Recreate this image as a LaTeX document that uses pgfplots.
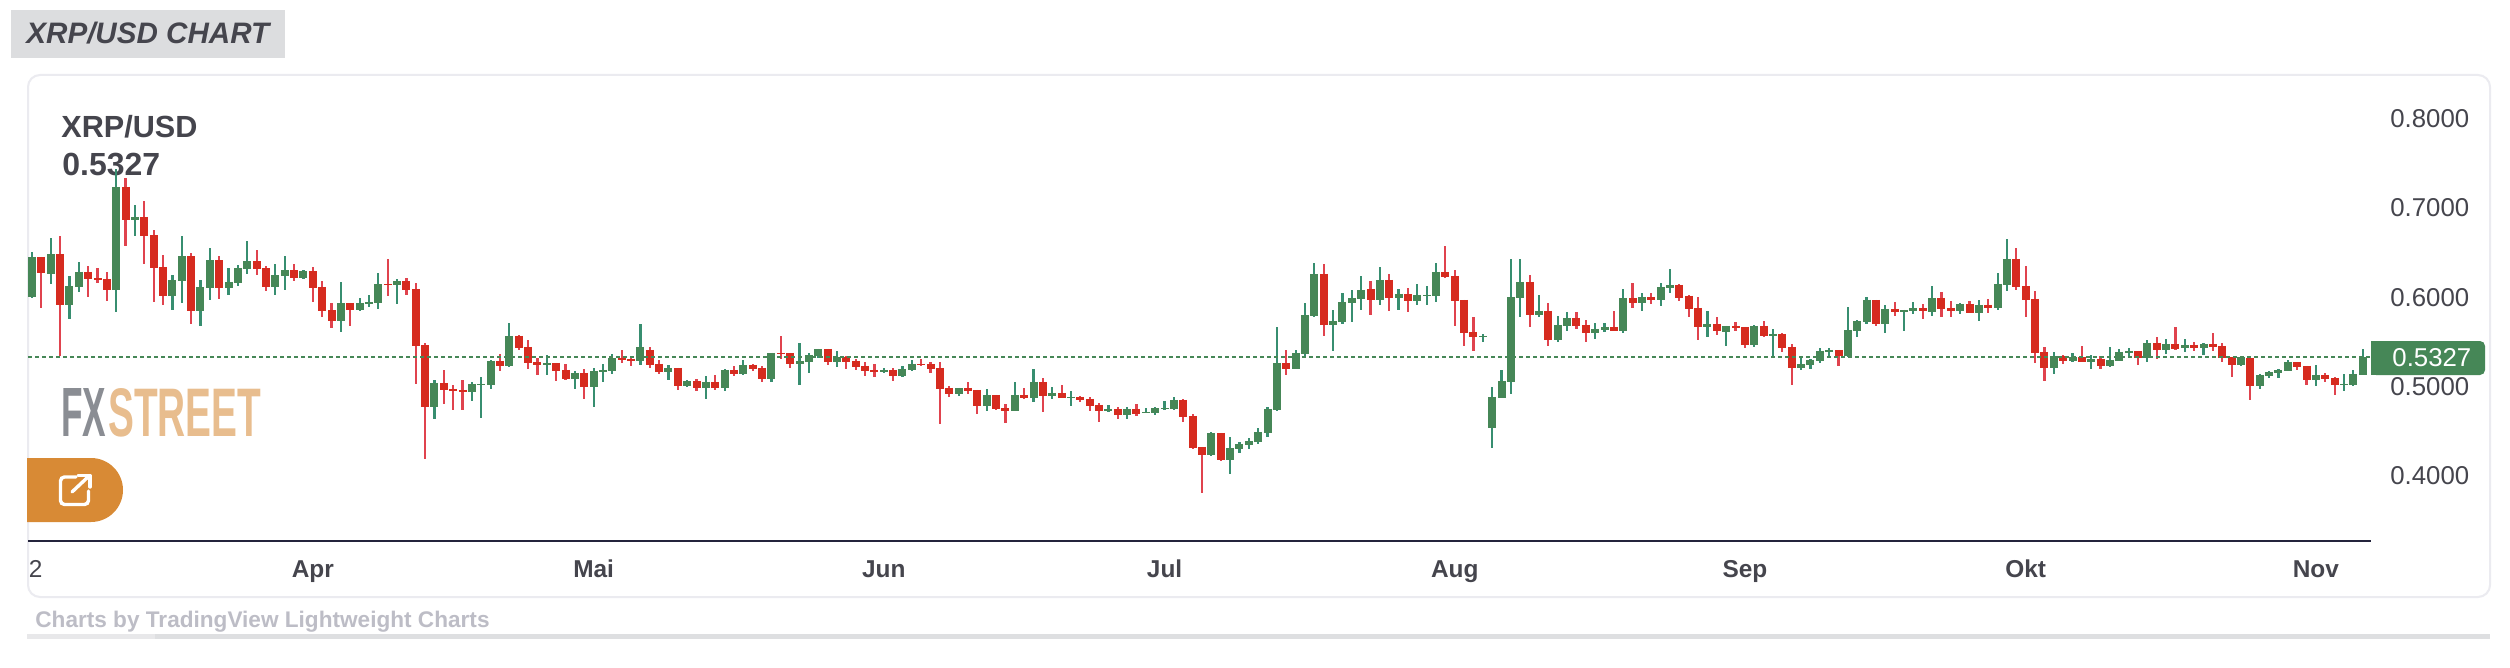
\documentclass[border=0pt]{standalone}
\usepackage{pgfplots}
\usepackage{pgfplotstable}
\usepackage{graphicx}
\usepackage{fontspec}
\pgfplotsset{compat=1.18}
\setmainfont{Liberation Sans}
\definecolor{upb}{HTML}{468757}
\definecolor{upw}{HTML}{378E70}
\definecolor{dnb}{HTML}{D62B1F}
\definecolor{dnw}{HTML}{E0434E}
\definecolor{txt}{HTML}{45454D}
\pgfplotstableread{
i H T B L
0 .6507 .6451 .5999 .5992
2 .6663 .6484 .6260 .6148
4 .6238 .6126 .5913 .5756
5 .6395 .6283 .6115 .6059
9 .7436 .7235 .6081 .5835
11 .7033 .6899 .6865 .6686
15 .6249 .6193 .6014 .5857
16 .6686 .6462 .6182 .5936
18 .6193 .6115 .5846 .5678
19 .6551 .6417 .6103 .5969
21 .6327 .6171 .6103 .6025
22 .6361 .6327 .6160 .6126
23 .6630 .6406 .6316 .6260
26 .6372 .6249 .6115 .6025
27 .6462 .6305 .6238 .6081
29 .6305 .6294 .6215 .6204
33 .6171 .5936 .5734 .5611
35 .5992 .5936 .5857 .5846
36 .6025 .5947 .5924 .5891
37 .6272 .6148 .5936 .5868
39 .6204 .6182 .6137 .5924
43 .5073 .5040 .4771 .4636
47 .5052 .5029 .4940 .4839
48 .5108 .5029 .5018 .4649
49 .5298 .5287 .5018 .4973
51 .5713 .5567 .5231 .5220
55 .5354 .5265 .5242 .5130
58 .5175 .5153 .5085 .4973
60 .5209 .5175 .4996 .4772
61 .5253 .5186 .5164 .5052
62 .5365 .5321 .5175 .5141
65 .5701 .5444 .5287 .5242
68 .5242 .5209 .5164 .5074
70 .5074 .5063 .5007 .4996
72 .5119 .5052 .4985 .4861
74 .5197 .5186 .4985 .4951
76 .5298 .5242 .5141 .5130
79 .5377 .5377 .5085 .5052
82 .5489 .5287 .5253 .5018
83 .5377 .5354 .5276 .5153
84 .5421 .5421 .5343 .5321
86 .5399 .5332 .5276 .5220
91 .5208 .5186 .5164 .5152
93 .5231 .5197 .5119 .5108
94 .5298 .5253 .5186 .5175
99 .4984 .4984 .4917 .4895
102 .4973 .4906 .4783 .4727
105 .5052 .4906 .4727 .4727
107 .5197 .5052 .4872 .4828
109 .4996 .4928 .4895 .4861
111 .4951 .4884 .4872 .4783
115 .4794 .4749 .4727 .4716
117 .4772 .4749 .4682 .4637
119 .4760 .4716 .4705 .4705
120 .4772 .4760 .4705 .4682
121 .4839 .4760 .4749 .4738
122 .4884 .4850 .4749 .4738
126 .4492 .4481 .4234 .4223
128 .4436 .4313 .4178 .4021
129 .4380 .4357 .4301 .4257
130 .4425 .4391 .4346 .4301
131 .4536 .4492 .4380 .4357
132 .4772 .4749 .4481 .4436
133 .5668 .5265 .4738 .4727
135 .5410 .5377 .5197 .5197
136 .5936 .5802 .5365 .5321
137 .6384 .6261 .5791 .5780
139 .5858 .5735 .5690 .5399
140 .6048 .5948 .5724 .5701
141 .6082 .5992 .5936 .5724
142 .6239 .6082 .5981 .5858
144 .6340 .6194 .5970 .5914
146 .6093 .6037 .5992 .5858
148 .6149 .6026 .5959 .5914
149 .6127 .6026 .6015 .5914
150 .6384 .6284 .6015 .5948
155 .5589 .5567 .5556 .5500
156 .4996 .4884 .4537 .4313
157 .5186 .5063 .4873 .4873
158 .6429 .6004 .5052 .4917
159 .6429 .6172 .5992 .5780
161 .6026 .5847 .5802 .5780
163 .5791 .5690 .5522 .5500
164 .5836 .5768 .5679 .5623
167 .5712 .5645 .5601 .5533
168 .5712 .5668 .5634 .5612
170 .6093 .5992 .5623 .5601
172 .6048 .6004 .5936 .5847
174 .6160 .6116 .5970 .5903
175 .6317 .6138 .6104 .6048
179 .5847 .5701 .5668 .5556
181 .5679 .5679 .5612 .5455
184 .5690 .5679 .5466 .5444
186 .5645 .5589 .5567 .5332
189 .5332 .5253 .5209 .5186
190 .5309 .5298 .5242 .5197
191 .5432 .5399 .5287 .5265
192 .5432 .5410 .5388 .5332
194 .5892 .5634 .5343 .5332
195 .5746 .5735 .5623 .5556
196 .6004 .5970 .5724 .5701
198 .5914 .5869 .5701 .5601
200 .5858 .5858 .5836 .5623
201 .5948 .5880 .5847 .5813
203 .6127 .5992 .5836 .5791
206 .5936 .5925 .5847 .5813
208 .5970 .5914 .5824 .5735
210 .6272 .6149 .5880 .5858
211 .6653 .6429 .6138 .6071
216 .5388 .5343 .5209 .5141
218 .5377 .5332 .5287 .5276
220 .5354 .5309 .5276 .5197
222 .5444 .5298 .5231 .5220
223 .5421 .5388 .5287 .5287
224 .5432 .5399 .5377 .5343
226 .5522 .5489 .5321 .5276
228 .5533 .5477 .5410 .5365
230 .5533 .5466 .5432 .5388
232 .5489 .5477 .5432 .5354
236 .5332 .5332 .5242 .5231
238 .5141 .5130 .5007 .4973
239 .5175 .5164 .5119 .5097
240 .5197 .5186 .5153 .5097
241 .5298 .5276 .5175 .5175
244 .5242 .5130 .5074 .5007
247 .5141 .5029 .5018 .4951
248 .5186 .5141 .5018 .5007
249 .5421 .5327 .5130 .5130
}\upcandles
\pgfplotstableread{
i H T B L
1 .6451 .6451 .6272 .5880
3 .6686 .6484 .5913 .5342
6 .6350 .6283 .6204 .6003
7 .6327 .6215 .6193 .6160
8 .6283 .6204 .6081 .5958
10 .7335 .7235 .6865 .6574
12 .7078 .6899 .6686 .6372
13 .6753 .6697 .6327 .5947
14 .6473 .6339 .6014 .5913
17 .6495 .6462 .5846 .5700
20 .6462 .6417 .6103 .5980
24 .6529 .6406 .6316 .6249
25 .6350 .6327 .6115 .6070
28 .6372 .6305 .6215 .6182
30 .6339 .6294 .6103 .5947
31 .6182 .6115 .5846 .5779
32 .5936 .5857 .5734 .5656
34 .5936 .5936 .5857 .5678
38 .6428 .6148 .6137 .6014
40 .6215 .6182 .6081 .6025
41 .6160 .6092 .5454 .5028
42 .5488 .5465 .4771 .4188
44 .5186 .5041 .4962 .4805
45 .5018 .4973 .4951 .4738
46 .5074 .4962 .4940 .4738
50 .5365 .5287 .5231 .5175
52 .5578 .5567 .5433 .5410
53 .5522 .5444 .5265 .5197
54 .5321 .5276 .5242 .5130
56 .5265 .5265 .5175 .5063
57 .5253 .5186 .5085 .5074
59 .5197 .5153 .4996 .4861
63 .5410 .5321 .5298 .5265
64 .5321 .5309 .5287 .5231
66 .5444 .5410 .5242 .5209
67 .5298 .5253 .5164 .5141
69 .5209 .5209 .5007 .4962
71 .5085 .5063 .4985 .4951
73 .5130 .5052 .4985 .4962
75 .5231 .5186 .5141 .5119
77 .5253 .5242 .5197 .5175
78 .5231 .5209 .5085 .5052
80 .5567 .5377 .5365 .5309
81 .5377 .5377 .5253 .5209
85 .5421 .5421 .5276 .5242
87 .5343 .5332 .5276 .5197
88 .5309 .5287 .5220 .5186
89 .5276 .5231 .5175 .5119
90 .5253 .5186 .5164 .5108
92 .5208 .5186 .5119 .5063
95 .5309 .5253 .5242 .5231
96 .5276 .5253 .5197 .5152
97 .5276 .5208 .4973 .4581
98 .5007 .4984 .4917 .4884
100 .5052 .4984 .4951 .4917
101 .4962 .4962 .4783 .4693
103 .4906 .4906 .4749 .4738
104 .4805 .4760 .4727 .4593
106 .4984 .4906 .4872 .4861
108 .5096 .5052 .4895 .4716
110 .5018 .4928 .4872 .4872
112 .4895 .4884 .4850 .4828
113 .4884 .4861 .4783 .4727
114 .4816 .4794 .4727 .4604
116 .4772 .4749 .4682 .4637
118 .4805 .4749 .4693 .4671
123 .4861 .4850 .4660 .4604
124 .4693 .4671 .4313 .4301
125 .4324 .4324 .4234 .3809
127 .4481 .4481 .4178 .4167
134 .5410 .5265 .5197 .5130
138 .6373 .6261 .5690 .5567
143 .6183 .6093 .5970 .5802
145 .6261 .6194 .5992 .5847
147 .6104 .6037 .5959 .5836
151 .6575 .6284 .6228 .6216
152 .6306 .6239 .5959 .5679
153 .5970 .5970 .5601 .5455
154 .5780 .5612 .5556 .5399
160 .6250 .6172 .5802 .5668
162 .5936 .5847 .5522 .5455
165 .5836 .5768 .5679 .5645
166 .5746 .5690 .5601 .5500
169 .5847 .5668 .5623 .5623
171 .6160 .5992 .5936 .5880
173 .6048 .6004 .5970 .5925
176 .6149 .6138 .5992 .5959
177 .6026 .6015 .5869 .5780
178 .6004 .5880 .5668 .5522
180 .5780 .5701 .5623 .5578
182 .5724 .5679 .5656 .5623
183 .5668 .5668 .5466 .5432
185 .5735 .5679 .5567 .5556
187 .5601 .5589 .5432 .5388
188 .5477 .5444 .5209 .5018
193 .5410 .5410 .5343 .5231
197 .5970 .5970 .5701 .5679
199 .5948 .5869 .5836 .5791
202 .5925 .5880 .5847 .5757
204 .6060 .5992 .5869 .5780
205 .5959 .5880 .5847 .5780
207 .5959 .5925 .5824 .5824
209 .5981 .5914 .5880 .5824
212 .6552 .6429 .6116 .6082
213 .6351 .6127 .5970 .5780
214 .6071 .5981 .5377 .5265
215 .5444 .5388 .5209 .5063
217 .5354 .5343 .5287 .5253
219 .5455 .5332 .5276 .5276
221 .5343 .5309 .5231 .5197
225 .5399 .5399 .5321 .5242
227 .5556 .5489 .5410 .5309
229 .5668 .5477 .5421 .5410
231 .5500 .5466 .5432 .5399
233 .5601 .5477 .5444 .5399
234 .5489 .5455 .5321 .5276
235 .5332 .5332 .5242 .5108
237 .5321 .5321 .5007 .4850
242 .5276 .5276 .5220 .5186
243 .5231 .5231 .5074 .5018
245 .5153 .5130 .5085 .5052
246 .5108 .5097 .5018 .4906
}\downcandles
\begin{document}
\begin{tikzpicture}[x=0.5pt,y=-0.5pt]
\path[use as bounding box,fill=white] (0,0) rectangle (2510,668);
% header
\fill[color={rgb,255:red,220;green,221;blue,223}] (11,10) rectangle (285,58);
\node[anchor=base west,inner sep=0pt,text=txt,font=\fontsize{14.8}{16}\selectfont\bfseries\itshape] at (26,44) {XRP/USD CHART};
% card
\draw[color={rgb,255:red,235;green,235;blue,240},line width=1pt,rounded corners=6pt] (28,75) rectangle (2490,597);
% footer
\fill[color={rgb,255:red,222;green,223;blue,225}] (27,634) rectangle (2490,639);
\fill[color={rgb,255:red,232;green,232;blue,234}] (27,634) rectangle (155,639);
\node[anchor=base west,inner sep=0pt,text={rgb,255:red,189;green,189;blue,198},font=\fontsize{11.3}{14}\selectfont\bfseries] at (35,627) {Charts by TradingView Lightweight Charts};
% pair title
\node[anchor=base west,inner sep=0pt,text=txt,font=\fontsize{15.3}{17}\selectfont\bfseries] at (61,138) {XRP/USD};
\node[anchor=base west,inner sep=0pt,text=txt,font=\fontsize{16}{18}\selectfont\bfseries] at (62,176) {0.5327};
% logo
\node[anchor=north west,inner sep=0pt,text={rgb,255:red,138;green,141;blue,147}] at (61,388) {\resizebox{22.5pt}{24pt}{\bfseries FX}};
\node[anchor=north west,inner sep=0pt,text={rgb,255:red,232;green,189;blue,142}] at (108,388) {\resizebox{76.5pt}{24pt}{\bfseries STREET}};
% button
\fill[color={rgb,255:red,216;green,138;blue,53}] (27,458) -- (91,458) arc[start angle=90,end angle=-90,radius=16pt] -- (27,522) -- cycle;
\draw[white,line width=1.7pt,rounded corners=2pt,line cap=round] (76,477) -- (60.5,477) -- (60.5,504.5) -- (88.5,504.5) -- (88.5,491);
\draw[white,line width=1.7pt,line cap=round] (72,492) -- (89,476);
\draw[white,line width=1.7pt,line cap=round,line join=round] (78,475.5) -- (90,475.5) -- (90,487);
% chart
\begin{axis}[
  at={(14pt,-270.35pt)},anchor=south west,
  scale only axis,width=1171.35pt,height=232.85pt,
  xmin=-0.427,xmax=249.86,ymin=.3274,ymax=.8489,
  axis x line*=bottom,axis y line*=right,
  x axis line style={draw={rgb,255:red,36;green,36;blue,60},line width=1.1pt,-},
  y axis line style={draw=none,-},
  major tick length=0pt,
  xtick={0.4,30,60,91,121,152,183,213,244},
  xticklabels={2,\textbf{Apr},\textbf{Mai},\textbf{Jun},\textbf{Jul},\textbf{Aug},\textbf{Sep},\textbf{Okt},\textbf{Nov}},
  x tick label style={anchor=base,inner sep=0pt,yshift=-18.15pt,text=txt,font=\fontsize{12.2}{14}\selectfont},
  ytick={.4,.5,.6,.7,.8},
  yticklabel pos=right,
  y tick label style={anchor=west,inner sep=0pt,xshift=9.6pt,text=txt,font=\fontsize{12.9}{14}\selectfont,
    /pgf/number format/.cd,fixed,fixed zerofill,precision=4,assume math mode=true},
  clip=false,
]
\addplot[draw=none,no markers,forget plot,error bars/.cd,y dir=both,y explicit,error mark=none,error bar style={draw=upw,line width=1.1pt,line cap=butt}]
  table[x=i,y=T,y error plus expr=\thisrow{H}-\thisrow{T},y error minus expr=\thisrow{T}-\thisrow{L}] {\upcandles};
\addplot[draw=none,no markers,forget plot,error bars/.cd,y dir=both,y explicit,error mark=none,error bar style={draw=dnw,line width=1.1pt,line cap=butt}]
  table[x=i,y=T,y error plus expr=\thisrow{H}-\thisrow{T},y error minus expr=\thisrow{T}-\thisrow{L}] {\downcandles};
\addplot[draw=none,no markers,forget plot,error bars/.cd,y dir=minus,y explicit,error mark=none,error bar style={draw=upb,line width=4pt,line cap=butt}]
  table[x=i,y=T,y error minus expr=\thisrow{T}-\thisrow{B}] {\upcandles};
\addplot[draw=none,no markers,forget plot,error bars/.cd,y dir=minus,y explicit,error mark=none,error bar style={draw=dnb,line width=4pt,line cap=butt}]
  table[x=i,y=T,y error minus expr=\thisrow{T}-\thisrow{B}] {\downcandles};
\addplot[forget plot,upb,no markers,line width=1pt,dash pattern=on 2pt off 1.5pt] coordinates {(-0.427,.5327)(249.86,.5327)};
\end{axis}
% last price label
\fill[upb,rounded corners=2.5pt] (2371,341) -- (2485,341) -- (2485,375) -- (2371,375) [sharp corners] -- cycle;
\fill[upb] (2371,341) rectangle (2380,375);
\node[anchor=west,inner sep=0pt,text=white,font=\fontsize{12.9}{14}\selectfont] at (2392,358) {0.5327};
\end{tikzpicture}
\end{document}
